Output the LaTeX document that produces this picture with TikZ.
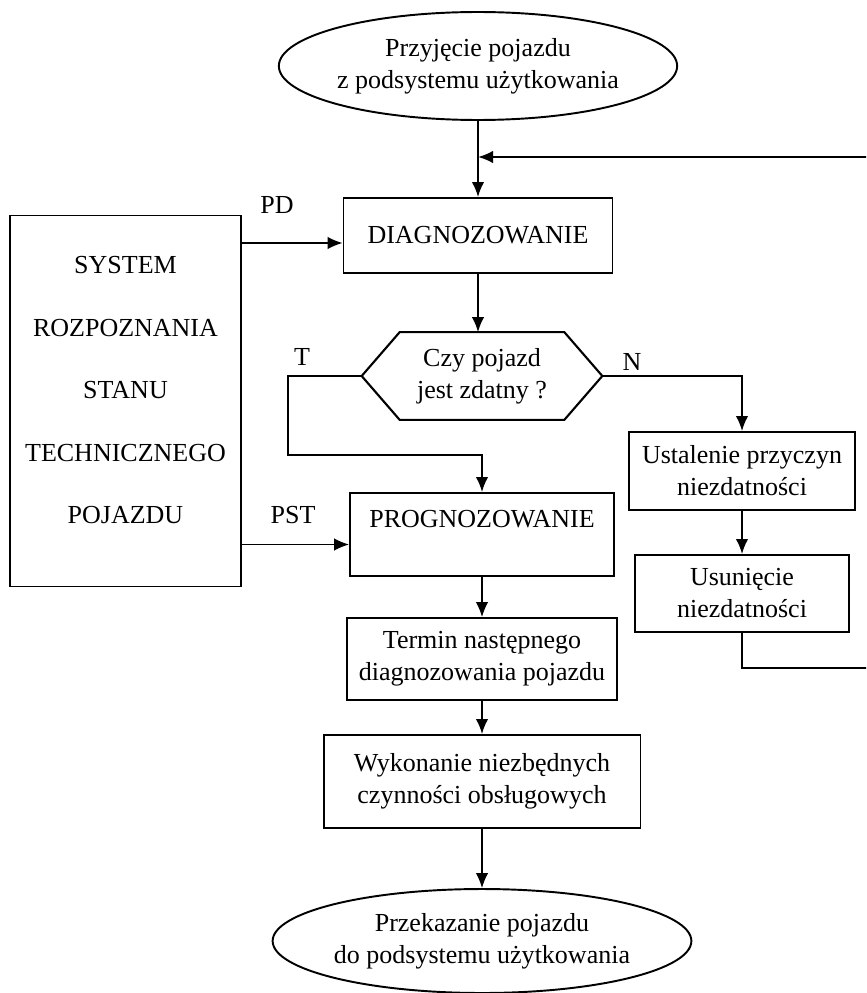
\documentclass[tikz,border=0pt]{standalone}
\usepackage{fontspec}
\setmainfont{Liberation Serif}
\usetikzlibrary{shapes.geometric, arrows.meta}
\tikzstyle{term} = [ellipse, draw=black, line width=1.1pt, inner sep=0pt, align=center]
\tikzstyle{block} = [rectangle, draw=black, line width=1.1pt, inner sep=0pt, align=center]
\tikzstyle{decision} = [rectangle, minimum width=4.8cm, minimum height=1.74cm, inner sep=0pt, align=center]
\tikzstyle{sysbox} = [rectangle, draw=black, line width=0.6pt, inner sep=0pt, align=center]
\tikzstyle{tag} = [inner sep=0pt]
\tikzstyle{conn} = [line width=1.2pt]
\tikzstyle{arrow} = [line width=1.1pt,-{Latex[length=0.3cm,width=0.25cm]}]
\tikzstyle{thinarrow} = [line width=0.8pt,-{Latex[length=0.3cm,width=0.25cm]}]

\begin{document}
\begin{tikzpicture}[x=0.02cm, y=-0.02cm, font=\fontsize{14.8}{18.2}\selectfont]
\useasboundingbox (0,0) rectangle (866,993);
\clip (0,0) rectangle (866,993);

\node (start) [term, minimum width=7.48cm, minimum height=2.16cm] at (478,66) {Przyjęcie pojazdu\\z podsystemu użytkowania};
\node (diag) [block, minimum width=5.38cm, minimum height=1.5cm] at (478,235.5) {DIAGNOZOWANIE};
\node (hex) [decision] at (482,376) {Czy pojazd\\jest zdatny ?};
\node (prog) [block, minimum width=5.28cm, minimum height=1.66cm] at (482,534.5) {PROGNOZOWANIE\\\mbox{}};
\node (termin) [block, minimum width=5.4cm, minimum height=1.64cm] at (482,659) {Termin następnego\\diagnozowania pojazdu};
\node (wyk) [block, minimum width=6.34cm, minimum height=1.86cm] at (482,781.5) {Wykonanie niezbędnych\\czynności obsługowych};
\node (end) [term, minimum width=7.32cm, minimum height=2.08cm] at (482,941) {Przekazanie pojazdu\\do podsystemu użytkowania};

\node (sys) [sysbox, minimum width=4.62cm, minimum height=7.44cm] at (125.5,401) {SYSTEM\\[0.61cm]ROZPOZNANIA\\[0.61cm]STANU\\[0.61cm]TECHNICZNEGO\\[0.61cm]POJAZDU\\[-0.2cm]\mbox{}};

\node (ust) [block, minimum width=4.52cm, minimum height=1.56cm] at (742,471) {Ustalenie przyczyn\\niezdatności};
\node (usun) [block, minimum width=4.28cm, minimum height=1.54cm] at (742,593.5) {Usunięcie\\niezdatności};

\node (pd) [tag] at (277,205) {PD};
\node (pst) [tag] at (293,515) {PST};
\node (tlab) [tag] at (302,357) {T};
\node (nlab) [tag] at (632,362) {N};

\coordinate (join) at (478,157);
\coordinate (tbend) at (288,455);
\coordinate (fbdown) at (890,668);
\coordinate (fbup) at (890,157);
\coordinate (pdin) at ([yshift=-0.15cm]diag.west);
\coordinate (pstin) at ([yshift=-0.2cm]prog.west);

% decision shape
\draw [conn] (hex.west) -- ([xshift=0.76cm]hex.north west) -- ([xshift=-0.76cm]hex.north east) -- (hex.east) -- ([xshift=-0.76cm]hex.south east) -- ([xshift=0.76cm]hex.south west) -- cycle;

\draw [arrow] (start) -- (diag);
\draw [arrow] (diag) -- (diag.south |- hex.north);
\draw [thinarrow] (sys.east |- pdin) -- (pdin);
\draw [thinarrow] (sys.east |- pstin) -- (pstin);
\draw [arrow] (hex.west) -| (tbend) -| (prog.north);
\draw [arrow] (hex.east) -| (ust.north);
\draw [arrow] (ust) -- (usun);
\draw [arrow] (usun.south) |- (fbdown) -- (fbup) -- (join);
\draw [thinarrow] (prog) -- (termin);
\draw [arrow] (termin) -- (wyk);
\draw [thinarrow] (wyk) -- (end);
\end{tikzpicture}
\end{document}
